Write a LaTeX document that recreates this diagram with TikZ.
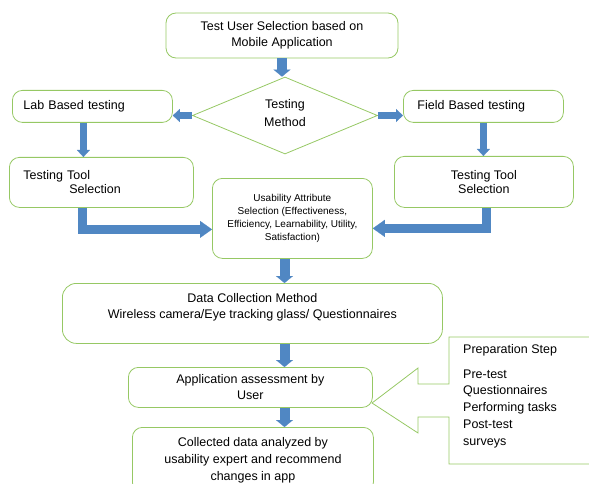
\documentclass[tikz,border=0pt]{standalone}
\usepackage{fontspec}
\setmainfont{Liberation Sans}
\usepackage{tikz}
\usetikzlibrary{arrows.meta}
\usetikzlibrary{shapes.geometric}
\usetikzlibrary{calc}

\definecolor{boxgreen}{RGB}{150,200,100}
\definecolor{arrowblue}{RGB}{80,135,195}

\begin{document}
\begin{tikzpicture}[x=1pt,y=-1pt,
    box/.style={draw=boxgreen, line width=0.8pt, rounded corners=10pt, inner sep=0pt,
        align=center, font=\fontsize{12.5}{16}\selectfont},
    leftbox/.style={box, align=left, anchor=north west},
    decision/.style={draw=boxgreen, line width=0.8pt, diamond, aspect=2.4, inner sep=0pt,
        align=center, font=\fontsize{12.5}{18}\selectfont},
    flow/.style={arrowblue, line width=10pt, line join=miter,
        -{Triangle[width=17pt,length=7pt,line width=0.1pt]}},
    smallflow/.style={arrowblue, line width=6.5pt,
        -{Triangle[width=13pt,length=7pt,line width=0.1pt]}},
    bentflow/.style={arrowblue, line width=9pt, line join=miter,
        -{Triangle[width=17pt,length=12pt,line width=0.1pt]}}]
            \clip (0,0) rectangle (589,484);
            \useasboundingbox (0,0) rectangle (589,484);
            \coordinate (spine) at (284.5,0);

            \node[box, minimum width=232pt, minimum height=45pt] (userSel) at (282,35.5)
                {Test User Selection based on\\Mobile Application};
            \node[decision, minimum width=185pt, minimum height=77pt] (method) at (285,115.5)
                {Testing\\Method\\[-13pt]};
            \node[leftbox, minimum height=32pt, text width=138pt, inner xsep=11pt] (labTest) at (12,90)
                {Lab Based testing};
            \node[leftbox, minimum height=32pt, text width=132pt, inner xsep=14pt] (fieldTest) at (403,90)
                {Field Based testing};
            \node[leftbox, minimum height=50pt, text width=156pt, inner xsep=14pt,
                font=\fontsize{12.5}{14}\selectfont] (toolLab) at (9,157)
                {Testing Tool\\\hspace*{46pt}Selection};
            \node[box, anchor=north west, minimum width=179pt, minimum height=51pt,
                font=\fontsize{12.5}{14}\selectfont] (toolField) at (394,156)
                {Testing Tool\\Selection};
            \node[box, anchor=north west, minimum width=160pt, minimum height=80pt,
                font=\fontsize{10}{13}\selectfont] (attrSel) at (212,178)
                {Usability Attribute\\Selection (Effectiveness,\\Efficiency, Learnability, Utility,\\Satisfaction)};
            \node[box, anchor=north west, minimum width=380pt, minimum height=60pt,
                rounded corners=14pt] (dataColl) at (62,283)
                {Data Collection Method\\Wireless camera/Eye tracking glass/ Questionnaires\\[-6pt]\strut};
            \node[box, anchor=north west, minimum width=244pt, minimum height=40pt] (assess) at (128,367)
                {Application assessment by\\User};
            \node[box, anchor=north west, minimum width=241pt, minimum height=65pt,
                font=\fontsize{12.5}{17}\selectfont] (analyse) at (132,427)
                {Collected data analyzed by\\usability expert and recommend\\changes in app};

            \draw[boxgreen, line width=0.8pt] (600,337) -- (449,337) -- (449,384) -- (418,384)
                -- (418,368) -- (372,403) -- (418,433) -- (418,417) -- (449,417) -- (449,464) -- (600,464);
            \node[anchor=north west, align=left, inner sep=0pt,
                font=\fontsize{12.5}{16.8}\selectfont] (prep) at (463,344)
                {Preparation Step\\[8pt]Pre-test\\Questionnaires\\Performing tasks\\Post-test\\surveys};

            \draw[flow] (userSel.south) -- (userSel.south |- method.north);
            \draw[smallflow] (method.west) -- (method.west -| labTest.east);
            \draw[smallflow] (method.east) -- (method.east -| fieldTest.west);
            \draw[smallflow] ([xshift=-9pt]labTest.south) -- ([xshift=-9pt]labTest.south |- toolLab.north);
            \draw[smallflow] (fieldTest.south) -- (fieldTest.south |- toolField.north);
            \draw[bentflow] ([xshift=-19pt]toolLab.south) |- ([yshift=-11pt]attrSel.west);
            \draw[bentflow] ([xshift=2.5pt]toolField.south) |- ([yshift=-10pt]attrSel.east);
            \draw[flow] (attrSel.south -| spine) -- (dataColl.north -| spine);
            \draw[flow] (dataColl.south -| spine) -- (assess.north -| spine);
            \draw[flow] (assess.south -| spine) -- (analyse.north -| spine);

        \end{tikzpicture}
\end{document}
